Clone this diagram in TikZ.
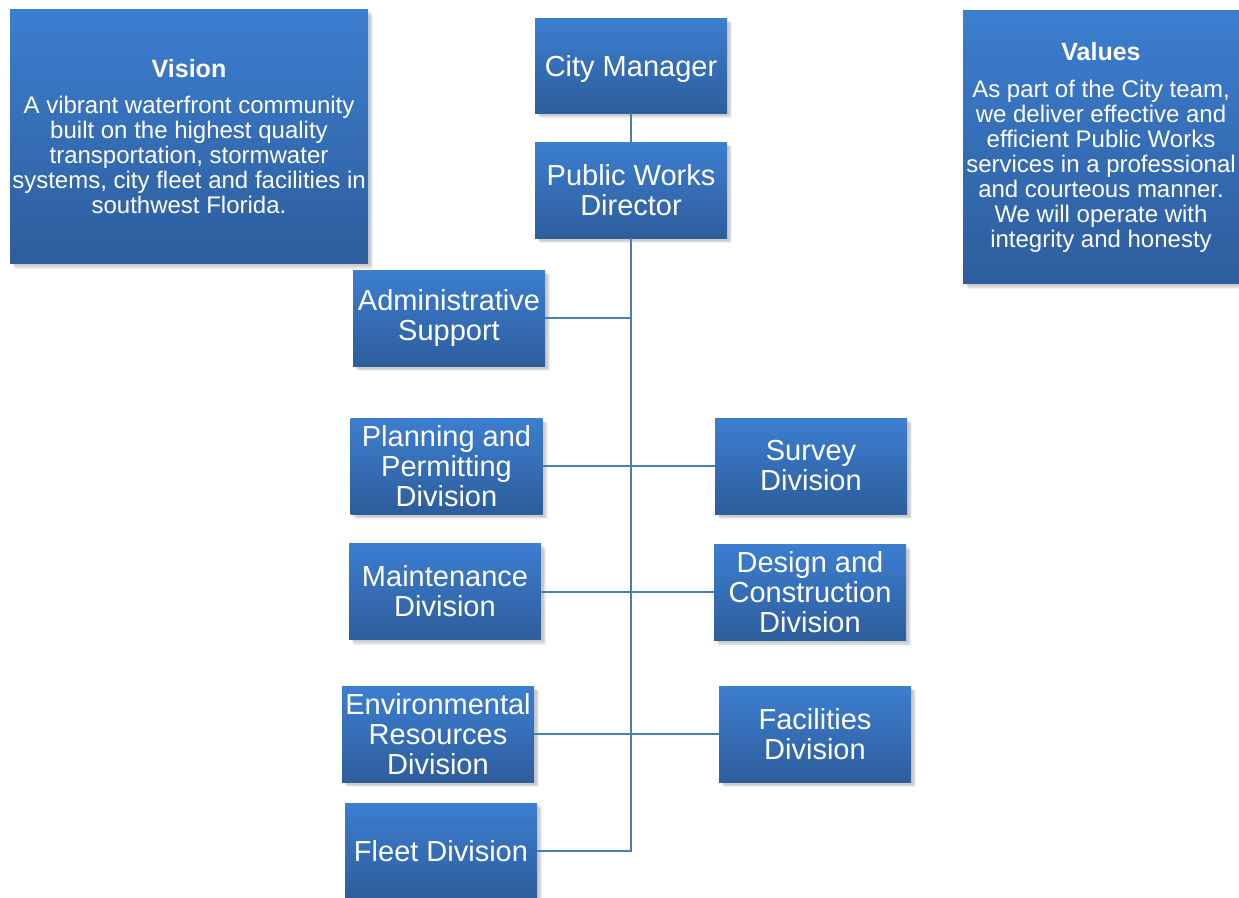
\documentclass[tikz,border=0pt]{standalone}
\usepackage{fontspec}
\setmainfont{Liberation Sans}
\usetikzlibrary{shadows}
\definecolor{boxtop}{HTML}{3C7ED0}
\definecolor{boxbot}{HTML}{2E5D9C}
\definecolor{linkc}{HTML}{4A7EBB}
\begin{document}
\begin{tikzpicture}[x=1pt,y=-1pt,
  box/.style={rectangle, top color=boxtop, bottom color=boxbot, draw=none, text=white,
    align=center, inner sep=0pt,
    drop shadow={opacity=0.12, shadow xshift=5pt, shadow yshift=-5pt},
    drop shadow={opacity=0.15, shadow xshift=4pt, shadow yshift=-4pt},
    drop shadow={opacity=0.2, shadow xshift=2.5pt, shadow yshift=-2.5pt}},
  unit/.style={box, minimum width=192pt, minimum height=96pt,
    font=\fontsize{29}{30}\selectfont},
  oneline/.style={text height=21pt, text depth=0pt},
  info/.style={box, font=\fontsize{24}{25}\selectfont},
  link/.style={draw=linkc, line width=2pt}]
\useasboundingbox (0,0) rectangle (1239,897);
\clip (0,0) rectangle (1239,897);

\node[info, minimum width=358pt, minimum height=254pt] (vision) at (189,136.5)
  {{\bfseries\fontsize{25}{25}\selectfont Vision}\\[11pt]
   A vibrant waterfront community\\ built on the highest quality\\ transportation, stormwater\\
   systems, city fleet and facilities in\\ southwest Florida.};
\node[info, minimum width=276pt, minimum height=273pt] (values) at (1101,147)
  {{\bfseries\fontsize{25}{25}\selectfont Values}\\[12pt]
   As part of the City team,\\ we deliver effective and\\ efficient Public Works\\
   services in a professional\\ and courteous manner.\\ We will operate with\\ integrity and honesty};

\node[unit, oneline, minimum height=95pt] (cm) at (631,65.5) {City Manager};
\node[unit] (pwd) at (631,190) {Public Works\\Director};
\node[unit] (admin) at (449,318) {Administrative\\Support};
\node[unit] (plan) at (446.5,466) {Planning and\\Permitting\\Division};
\node[unit] (survey) at (811,466) {Survey\\Division};
\node[unit] (maint) at (445,591.5) {Maintenance\\Division};
\node[unit] (design) at (810,592.5) {Design and\\Construction\\Division};
\node[unit] (env) at (438,734) {Environmental\\Resources\\Division};
\node[unit] (fac) at (815,734) {Facilities\\Division};
\node[unit, oneline] (fleet) at (441,851) {Fleet Division};

\draw[link] (cm.south) -- (pwd.north);
\draw[link] (pwd.south) -- (pwd.south |- fleet.east) -- (fleet.east);
\draw[link] (admin.east) -- (admin.east -| pwd.south);
\draw[link] (plan.east) -- (survey.west);
\draw[link] (maint.east) -- (maint.east -| design.west);
\draw[link] (env.east) -- (fac.west);
\end{tikzpicture}
\end{document}
